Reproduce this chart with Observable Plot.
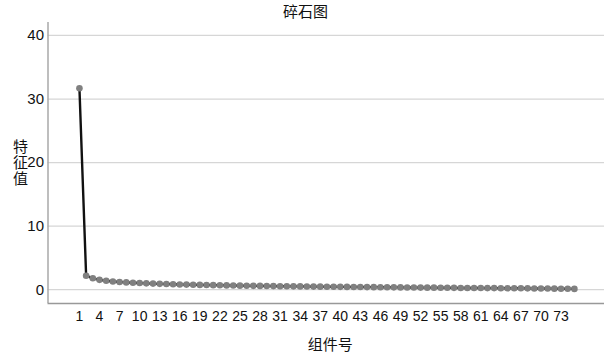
<!DOCTYPE html>
<html>
<head>
<meta charset="utf-8">
<script src="https://cdn.jsdelivr.net/npm/d3@7"></script>
<script src="https://cdn.jsdelivr.net/npm/@observablehq/plot@0.6"></script>
<style>
  html, body { margin: 0; padding: 0; background: #fff; }
  #title { width: 611px; height: 22px; line-height: 22px; text-align: center;
    font-family: "Liberation Sans", Arial, "Noto Sans CJK SC", sans-serif; font-size: 15px; color: #111; padding-top: 1px; box-sizing: border-box; }
</style>
</head>
<body>
<div id="title"></div>
<div id="chart"></div>
<script>
const title = "碎石图";
const xLabel = "组件号";
const yLabel = "特\n征\n值";
const components = d3.range(1, 76);
const eigenvalues = [
  31.7, 2.2, 1.8, 1.55, 1.4, 1.3, 1.22, 1.15, 1.1, 1.05,
  1.0, 0.96, 0.92, 0.89, 0.86, 0.83, 0.8, 0.78, 0.76, 0.74,
  0.72, 0.7, 0.68, 0.66, 0.64, 0.63, 0.61, 0.6, 0.58, 0.57,
  0.55, 0.54, 0.53, 0.52, 0.5, 0.49, 0.48, 0.47, 0.46, 0.45,
  0.44, 0.43, 0.42, 0.41, 0.4, 0.39, 0.38, 0.37, 0.36, 0.35,
  0.34, 0.33, 0.32, 0.32, 0.31, 0.3, 0.29, 0.28, 0.28, 0.27,
  0.26, 0.25, 0.25, 0.24, 0.23, 0.22, 0.22, 0.21, 0.2, 0.19,
  0.18, 0.17, 0.16, 0.15, 0.13
];
const xTicks = d3.range(1, 74, 3);
const yTicks = [0, 10, 20, 30, 40];
const xDomain = [-3.7, 79.5];
const yDomain = [-2.17, 42.04];

const data = components.map((c, i) => ({component: c, value: eigenvalues[i]}));

document.getElementById("title").textContent = title;

const chart = Plot.plot({
  width: 611,
  height: 333,
  marginTop: 0,
  marginBottom: 52,
  marginLeft: 47.5,
  marginRight: 7,
  style: { fontFamily: '"Liberation Sans", Arial, "Noto Sans CJK SC", sans-serif', background: "#fff", color: "#111" },
  x: { domain: xDomain },
  y: { domain: yDomain },
  marks: [
    Plot.gridY(yTicks, { stroke: "#d6d6d6", strokeOpacity: 1, strokeWidth: 1.3 }),
    Plot.ruleX([xDomain[0]], { stroke: "#a8a8a8", strokeWidth: 1.5 }),
    Plot.ruleY([yDomain[0]], { stroke: "#999", strokeWidth: 1.5 }),
    Plot.axisY({ ticks: yTicks, tickSize: 0, tickPadding: 4, fontSize: 15, label: null, tickFormat: d => String(d) }),
    Plot.axisX({ ticks: xTicks, tickSize: 0, tickPadding: 8, fontSize: 14, label: null, tickFormat: d => String(d) }),
    Plot.line(data, { x: "component", y: "value", stroke: "#111", strokeWidth: 2.4 }),
    Plot.dot(data, { x: "component", y: "value", r: 3.3, fill: "#808080", stroke: "none" }),
    Plot.text([yLabel], { text: d => d, frameAnchor: "left", dx: -35, fontSize: 15, lineHeight: 1.08, fill: "#111" }),
    Plot.text([xLabel], { text: d => d, frameAnchor: "bottom", dy: 46, dx: 4, fontSize: 15, fill: "#111" })
  ]
});
document.getElementById("chart").appendChild(chart);
</script>
</body>
</html>
